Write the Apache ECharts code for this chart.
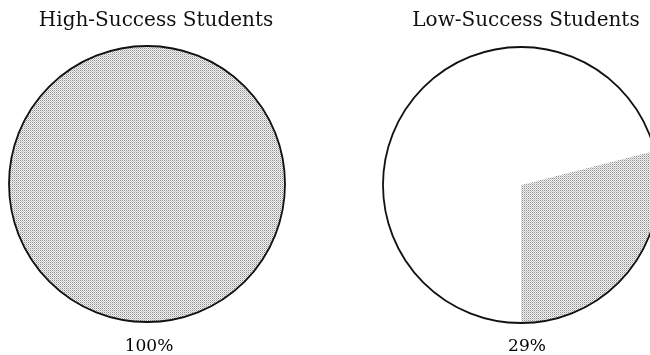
<!DOCTYPE html>
<html><head><meta charset="utf-8">
<script src="https://cdn.jsdelivr.net/npm/echarts@6/dist/echarts.min.js"></script>
<style>html,body{margin:0;padding:0;background:#fff}#c{width:650px;height:355px}</style>
</head><body><div id="c"></div>
<script>
const groups = ['High-Success Students', 'Low-Success Students'];
const shadedPct = [100, 29];
const pctLabels = ['100%', '29%'];

const cv = document.createElement('canvas');
cv.width = 2; cv.height = 2;
const cx = cv.getContext('2d');
cx.fillStyle = '#f4f4f4'; cx.fillRect(0,0,2,2);
cx.fillStyle = '#8e8e8e'; cx.fillRect(0,0,1,1);
cx.fillStyle = '#c4c4c4'; cx.fillRect(1,1,1,1);
const shade = {image: cv, repeat: 'repeat'};

const centers = [[147,184],[521,185]];
const R = 138;
const font = '"DejaVu Serif", "Liberation Serif", serif';

const series = [];
const titles = [];
groups.forEach((g, i) => {
  const p = shadedPct[i];
  const data = p >= 100 ? [{value: p, itemStyle:{color: shade}}]
    : [{value: p, itemStyle:{color: shade}}, {value: 100 - p, itemStyle:{color:'#fff'}}];
  series.push({
    type: 'pie', center: centers[i], radius: [0, R], silent: true,
    startAngle: -90 + p / 100 * 360, clockwise: true,
    label: {show:false}, labelLine:{show:false}, animation:false,
    itemStyle: {borderWidth: 0},
    data: data
  });
  series.push({
    type: 'pie', center: centers[i], radius: [0, R], silent: true,
    label: {show:false}, labelLine:{show:false}, animation:false,
    itemStyle: {color: 'rgba(0,0,0,0)', borderColor:'#111', borderWidth: 1.8},
    data: [{value: 100}]
  });
  titles.push({text: g, left: centers[i][0] + (i ? 0 : 4), top: 6, textAlign: 'center',
    textStyle:{fontFamily: font, fontSize: 20, fontWeight: 'normal', color:'#111'}});
  titles.push({text: pctLabels[i], left: centers[i][0] + (i ? 1 : -3), top: 333, textAlign: 'center',
    textStyle:{fontFamily: font, fontSize: 17, fontWeight: 'normal', color:'#000'}});
});

const chart = echarts.init(document.getElementById('c'));
chart.setOption({backgroundColor:'#fff', animation:false, title: titles, series: series});
</script></body></html>
